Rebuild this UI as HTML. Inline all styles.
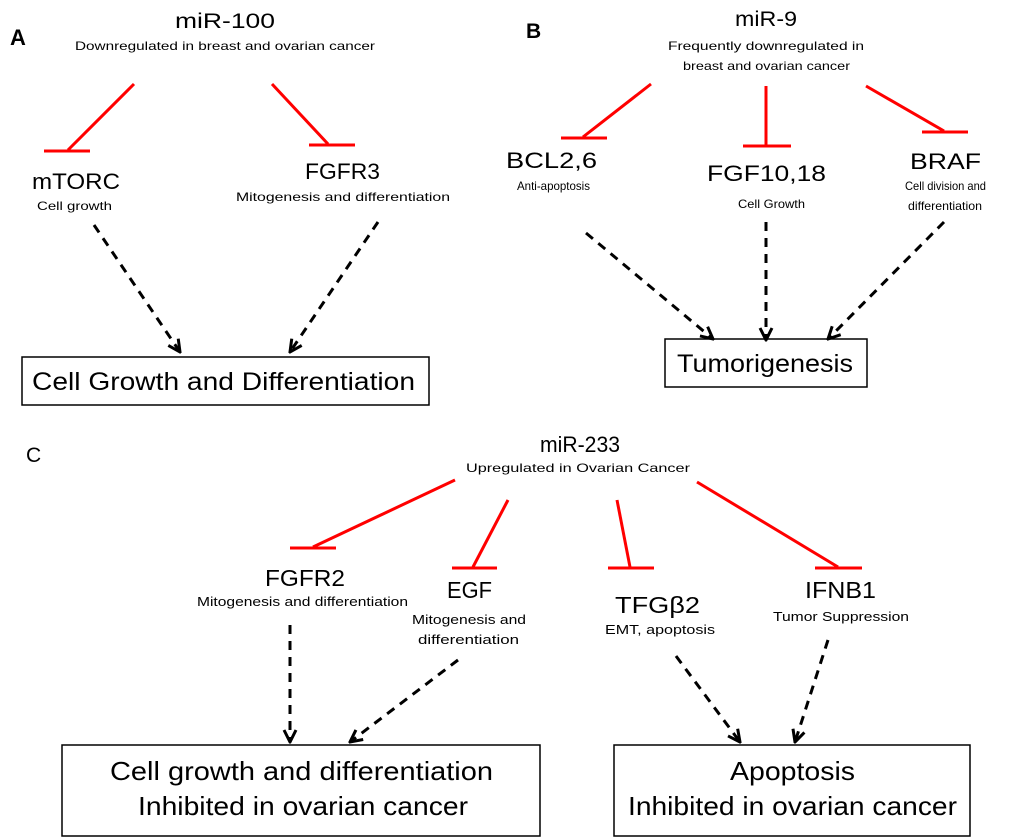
<!DOCTYPE html>
<html><head><meta charset="utf-8"><style>
html,body{margin:0;padding:0;background:#fff}
svg{display:block}
text{font-family:"Liberation Sans",sans-serif;fill:#000}
</style></head><body>
<svg width="1024" height="840" viewBox="0 0 1024 840" xmlns="http://www.w3.org/2000/svg">
<defs>
<marker id="ah" viewBox="0 0 10 10" refX="9" refY="5" markerWidth="5" markerHeight="5" orient="auto">
<path d="M1,1 L9,5 L1,9" fill="none" stroke="#000" stroke-width="2"/>
</marker>
</defs>
<g stroke="#f00" stroke-width="3" fill="none">
<line x1="134" y1="84" x2="68" y2="150"/><line x1="44" y1="151" x2="90" y2="151"/>
<line x1="272" y1="84" x2="328" y2="144"/><line x1="309" y1="145" x2="355" y2="145"/>
<line x1="651" y1="84" x2="583" y2="137"/><line x1="561" y1="138" x2="607" y2="138"/>
<line x1="766" y1="86" x2="766" y2="145"/><line x1="743" y1="146" x2="791" y2="146"/>
<line x1="866" y1="86" x2="944" y2="131"/><line x1="922" y1="132" x2="968" y2="132"/>
<line x1="455" y1="480" x2="313" y2="547"/><line x1="290" y1="548" x2="336" y2="548"/>
<line x1="508" y1="500" x2="473" y2="567"/><line x1="452" y1="568" x2="497" y2="568"/>
<line x1="617" y1="500" x2="630" y2="567"/><line x1="608" y1="568" x2="654" y2="568"/>
<line x1="697" y1="482" x2="838" y2="567"/><line x1="815" y1="568" x2="862" y2="568"/>
</g>
<g stroke="#000" stroke-width="3" fill="none" stroke-dasharray="9,7" marker-end="url(#ah)">
<line x1="94" y1="225" x2="180" y2="352"/>
<line x1="378" y1="222" x2="290" y2="352"/>
<line x1="586" y1="233" x2="713" y2="339"/>
<line x1="766" y1="222" x2="766" y2="340"/>
<line x1="944" y1="222" x2="828" y2="339"/>
<line x1="290" y1="625" x2="290" y2="742"/>
<line x1="458" y1="660" x2="350" y2="742"/>
<line x1="676" y1="656" x2="740" y2="742"/>
<line x1="828" y1="640" x2="795" y2="742"/>
</g>
<g fill="none" stroke="#000" stroke-width="1.5">
<rect x="22" y="357" width="407" height="48"/>
<rect x="665" y="339" width="202" height="48"/>
<rect x="62" y="745" width="478" height="91"/>
<rect x="614" y="745" width="356" height="91"/>
</g>
<text x="10" y="45" font-size="22" font-weight="bold">A</text>
<text x="526" y="38" font-size="21" font-weight="bold">B</text>
<text x="26" y="462" font-size="21">C</text>
<g lengthAdjust="spacingAndGlyphs">
<text x="175" y="28" font-size="21" textLength="100" lengthAdjust="spacingAndGlyphs">miR-100</text>
<text x="75" y="50" font-size="12" textLength="300" lengthAdjust="spacingAndGlyphs">Downregulated  in breast and ovarian cancer</text>
<text x="32" y="189" font-size="22" textLength="88" lengthAdjust="spacingAndGlyphs">mTORC</text>
<text x="37" y="210" font-size="12" textLength="75" lengthAdjust="spacingAndGlyphs">Cell growth</text>
<text x="305" y="179" font-size="22" textLength="75" lengthAdjust="spacingAndGlyphs">FGFR3</text>
<text x="236" y="201" font-size="12" textLength="214" lengthAdjust="spacingAndGlyphs">Mitogenesis and differentiation</text>
<text x="32" y="390" font-size="25" textLength="383" lengthAdjust="spacingAndGlyphs">Cell Growth and Differentiation</text>
<text x="735" y="26" font-size="21" textLength="62" lengthAdjust="spacingAndGlyphs">miR-9</text>
<text x="668" y="50" font-size="12" textLength="196" lengthAdjust="spacingAndGlyphs">Frequently downregulated in</text>
<text x="683" y="70" font-size="12" textLength="167" lengthAdjust="spacingAndGlyphs">breast and ovarian cancer</text>
<text x="506" y="168" font-size="22" textLength="91" lengthAdjust="spacingAndGlyphs">BCL2,6</text>
<text x="517" y="190" font-size="12" textLength="73" lengthAdjust="spacingAndGlyphs">Anti-apoptosis</text>
<text x="707" y="181" font-size="22" textLength="119" lengthAdjust="spacingAndGlyphs">FGF10,18</text>
<text x="738" y="208" font-size="12" textLength="67" lengthAdjust="spacingAndGlyphs">Cell Growth</text>
<text x="910" y="169" font-size="22" textLength="71" lengthAdjust="spacingAndGlyphs">BRAF</text>
<text x="905" y="190" font-size="12" textLength="81" lengthAdjust="spacingAndGlyphs">Cell division and</text>
<text x="908" y="210" font-size="12" textLength="74" lengthAdjust="spacingAndGlyphs">differentiation</text>
<text x="677" y="372" font-size="25" textLength="176" lengthAdjust="spacingAndGlyphs">Tumorigenesis</text>
<text x="540" y="452" font-size="22" textLength="80" lengthAdjust="spacingAndGlyphs">miR-233</text>
<text x="466" y="472" font-size="12" textLength="224" lengthAdjust="spacingAndGlyphs">Upregulated  in Ovarian Cancer</text>
<text x="265" y="586" font-size="23" textLength="80" lengthAdjust="spacingAndGlyphs">FGFR2</text>
<text x="197" y="606" font-size="13" textLength="211" lengthAdjust="spacingAndGlyphs">Mitogenesis and differentiation</text>
<text x="447" y="598" font-size="23" textLength="45" lengthAdjust="spacingAndGlyphs">EGF</text>
<text x="412" y="624" font-size="13" textLength="114" lengthAdjust="spacingAndGlyphs">Mitogenesis and</text>
<text x="418" y="644" font-size="13" textLength="101" lengthAdjust="spacingAndGlyphs">differentiation</text>
<text x="615" y="613" font-size="23" textLength="85" lengthAdjust="spacingAndGlyphs">TFGβ2</text>
<text x="605" y="634" font-size="13" textLength="110" lengthAdjust="spacingAndGlyphs">EMT,  apoptosis</text>
<text x="805" y="598" font-size="23" textLength="71" lengthAdjust="spacingAndGlyphs">IFNB1</text>
<text x="773" y="621" font-size="13" textLength="136" lengthAdjust="spacingAndGlyphs">Tumor Suppression</text>
<text x="110" y="780" font-size="26" textLength="383" lengthAdjust="spacingAndGlyphs">Cell growth and differentiation</text>
<text x="138" y="815" font-size="26" textLength="330" lengthAdjust="spacingAndGlyphs">Inhibited in ovarian cancer</text>
<text x="730" y="780" font-size="26" textLength="125" lengthAdjust="spacingAndGlyphs">Apoptosis</text>
<text x="628" y="815" font-size="26" textLength="329" lengthAdjust="spacingAndGlyphs">Inhibited in ovarian cancer</text>
</g>
</svg>
</body></html>
